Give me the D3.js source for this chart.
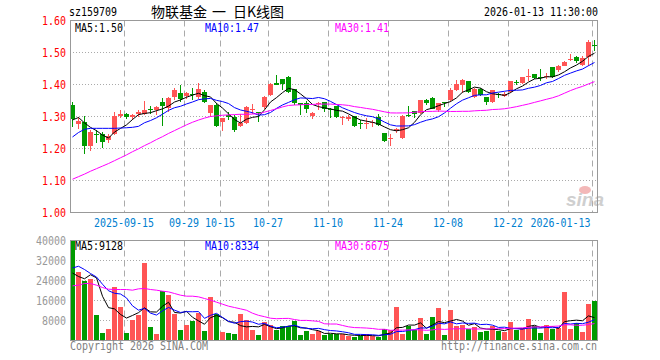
<!DOCTYPE html>
<html>
<head>
<meta charset="utf-8">
<script src="https://cdn.jsdelivr.net/npm/d3@7"></script>
<style>
  body { margin: 0; background: #fff; }
</style>
</head>
<body>
<div id="container"></div>
<script>
// données (sz159709, bougies journalières)
const dates = [
  "2025-09-02","2025-09-03","2025-09-04","2025-09-05","2025-09-08","2025-09-09","2025-09-10","2025-09-11","2025-09-12",
  "2025-09-15","2025-09-16","2025-09-17","2025-09-18","2025-09-19","2025-09-22","2025-09-23","2025-09-24","2025-09-25","2025-09-26",
  "2025-09-29","2025-09-30",
  "2025-10-09","2025-10-10","2025-10-13","2025-10-14","2025-10-15","2025-10-16","2025-10-17","2025-10-20","2025-10-21",
  "2025-10-22","2025-10-23","2025-10-24","2025-10-27","2025-10-28","2025-10-29","2025-10-30","2025-10-31",
  "2025-11-03","2025-11-04","2025-11-05","2025-11-06","2025-11-07","2025-11-10","2025-11-11","2025-11-12","2025-11-13","2025-11-14",
  "2025-11-17","2025-11-18","2025-11-19","2025-11-20","2025-11-21","2025-11-24","2025-11-25","2025-11-26","2025-11-27","2025-11-28",
  "2025-12-01","2025-12-02","2025-12-03","2025-12-04","2025-12-05","2025-12-08","2025-12-09","2025-12-10","2025-12-11","2025-12-12",
  "2025-12-15","2025-12-16","2025-12-17","2025-12-18","2025-12-19","2025-12-22","2025-12-23","2025-12-24","2025-12-25","2025-12-26",
  "2025-12-29","2025-12-30","2025-12-31",
  "2026-01-05","2026-01-06","2026-01-07","2026-01-08","2026-01-09","2026-01-12","2026-01-13"
];

const open = [
  1.335,1.278,1.283,1.207,1.246,1.245,1.228,1.245,1.303,1.308,
  1.297,1.307,1.307,1.323,1.320,1.346,1.328,1.361,1.375,1.364,
  1.369,1.361,1.377,1.310,1.335,1.283,1.306,1.299,1.270,1.280,
  1.321,1.313,1.330,1.367,1.405,1.417,1.422,1.387,1.341,1.343,
  1.303,1.338,1.345,1.325,1.332,1.294,1.293,1.301,1.280,1.277,
  1.280,1.299,1.249,1.231,1.256,1.234,1.305,1.316,1.312,1.351,
  1.358,1.320,1.345,1.351,1.382,1.400,1.410,1.361,1.385,1.361,
  1.346,1.369,1.364,1.376,1.409,1.404,1.425,1.433,1.423,1.423,
  1.454,1.444,1.459,1.477,1.485,1.461,1.485,1.523
];
const high = [
  1.345,1.299,1.301,1.259,1.257,1.252,1.245,1.315,1.320,1.311,
  1.307,1.320,1.349,1.332,1.333,1.359,1.361,1.390,1.398,1.377,
  1.390,1.406,1.382,1.335,1.341,1.296,1.315,1.304,1.309,1.332,
  1.340,1.315,1.363,1.405,1.429,1.417,1.426,1.387,1.341,1.349,
  1.315,1.346,1.345,1.328,1.332,1.301,1.304,1.301,1.289,1.294,
  1.290,1.307,1.249,1.245,1.265,1.304,1.332,1.318,1.351,1.356,
  1.361,1.343,1.346,1.390,1.414,1.416,1.410,1.390,1.390,1.361,
  1.382,1.374,1.378,1.410,1.415,1.425,1.449,1.433,1.449,1.435,
  1.454,1.461,1.472,1.494,1.489,1.488,1.538,1.538
];
const low = [
  1.267,1.262,1.184,1.193,1.218,1.203,1.216,1.242,1.294,1.291,
  1.289,1.300,1.304,1.309,1.306,1.270,1.315,1.353,1.346,1.356,
  1.353,1.356,1.341,1.300,1.268,1.255,1.290,1.252,1.268,1.278,
  1.309,1.283,1.325,1.364,1.397,1.384,1.375,1.335,1.306,1.311,
  1.293,1.320,1.315,1.294,1.294,1.275,1.285,1.268,1.262,1.262,
  1.268,1.270,1.221,1.208,1.250,1.231,1.300,1.294,1.307,1.335,
  1.323,1.313,1.330,1.346,1.380,1.372,1.374,1.359,1.364,1.337,
  1.343,1.357,1.360,1.374,1.399,1.402,1.412,1.418,1.412,1.418,
  1.420,1.440,1.457,1.473,1.468,1.459,1.459,1.504
];
const close = [
  1.291,1.285,1.207,1.252,1.244,1.221,1.239,1.301,1.309,1.299,
  1.305,1.315,1.320,1.321,1.330,1.333,1.358,1.384,1.354,1.372,
  1.366,1.387,1.346,1.335,1.270,1.294,1.297,1.257,1.280,1.330,
  1.323,1.310,1.361,1.403,1.398,1.401,1.377,1.341,1.336,1.323,
  1.311,1.343,1.322,1.320,1.299,1.300,1.300,1.270,1.277,1.280,
  1.283,1.273,1.224,1.234,1.262,1.301,1.303,1.309,1.351,1.343,
  1.325,1.341,1.342,1.382,1.401,1.414,1.377,1.385,1.367,1.344,
  1.382,1.366,1.371,1.410,1.404,1.425,1.428,1.420,1.420,1.428,
  1.423,1.458,1.470,1.480,1.473,1.482,1.534,1.520
];
// true = bougie rouge (hausse), false = verte
const up = open.map((o, i) => close[i] >= o);

const volume = [
  39800,27300,23700,24500,10100,2900,4500,21300,13300,2900,
  8100,10100,30900,5300,2500,19700,18100,10500,4100,6100,
  7700,10900,3700,17300,10500,3300,2900,2500,10500,8100,
  4100,2100,7300,6100,4100,5700,5700,7700,2100,3700,
  2500,3700,2100,2500,2500,2500,1700,1300,2000,2700,
  2000,1300,4500,4400,13300,2700,6000,4400,8900,2500,
  9300,12900,2100,12100,5700,6100,4500,5300,3300,3700,
  5700,3700,3300,7300,4100,4900,8500,5700,2900,6100,
  4500,4900,19300,4800,7200,3300,14600,15800
];

// moyennes mobiles avant que la fenêtre soit complète
const ma5PriceHead = [1.289, 1.297, 1.280, 1.266];
const ma10PriceHead = [1.236, 1.250, 1.260, 1.263, 1.263, 1.263, 1.263, 1.263, 1.264];
const ma30PriceHead = [
  1.104,1.112,1.120,1.129,1.137,1.145,1.153,1.162,1.171,1.180,
  1.190,1.199,1.209,1.218,1.228,1.237,1.247,1.256,1.265,1.274,
  1.282,1.289,1.295,1.300,1.302,1.304,1.305,1.306,1.307
];
const ma5VolHead = [27000, 25600, 24700, 26300];
const ma10VolHead = [29000, 29700, 28400, 26800, 25400, 22500, 19900, 18900, 18600];
const ma30VolHead = [
  21860,22130,22800,22800,22130,21200,20530,20400,20400,20400,
  20130,20660,20800,20400,20130,19730,19460,18800,18130,17730,
  17730,17460,16800,16130,15330,14530,13730,13200,12660
];

const tickDates = ["2025-09-15","2025-09-29","2025-10-15","2025-10-27","2025-11-10","2025-11-24","2025-12-08","2025-12-22","2026-01-13"];
const tickLabels = ["2025-09-15","09-29","10-15","10-27","11-10","11-24","12-08","12-22","2026-01-13"];
const priceTicks = [1.00, 1.10, 1.20, 1.30, 1.40, 1.50, 1.60];
const volTicks = [0, 8000, 16000, 24000, 32000, 40000];
const priceLegend = ["MA5:1.50", "MA10:1.47", "MA30:1.41"];
const volLegend = ["MA5:9128", "MA10:8334", "MA30:6675"];
const titleParts = ["物联基金", "一", "日K线图"];
const maColors = ["#000000", "#0000ff", "#ff00ff"];

// Dimensions
const width = 660;
const height = 360;
const left = 70;
const right = 598;

const RED = "#ff5555";
const GREEN = "#009a00";
const MONO = "'DejaVu Sans Mono', 'Liberation Mono', monospace";

const svg = d3.select("#container")
  .append("svg")
  .attr("width", width)
  .attr("height", height)
  .style("display", "block");

// texte monospace à 6px par caractère, comme la police bitmap de Sina
function label(g, x, y, s, color, anchor) {
  return g.append("text")
    .attr("x", x)
    .attr("y", y)
    .attr("text-anchor", anchor || "start")
    .attr("fill", color)
    .style("font-family", MONO)
    .style("font-size", "12px")
    .attr("textLength", s.length * 6)
    .attr("lengthAdjust", "spacingAndGlyphs")
    .text(s);
}

function movingAvg(vals, n, head) {
  return vals.map((v, i) => i < n - 1 ? head[i] : d3.mean(vals.slice(i - n + 1, i + 1)));
}

// Échelles
const x = d3.scaleBand().domain(dates).range([left, right]).padding(0);
const yPrice = d3.scaleLinear().domain([1.0, 1.6]).range([212.5, 20.5]);
const yVol = d3.scaleLinear().domain([0, 40000]).range([340.5, 240.5]);

// En-tête
label(svg, 69, 16, "sz159709", "#000");
const titleX = [151, 212, 233];
titleParts.forEach((s, k) => {
  svg.append("text")
    .attr("x", titleX[k]).attr("y", 17)
    .style("font-family", "'Noto Sans CJK SC', sans-serif")
    .style("font-size", "14px")
    .attr("fill", "#000")
    .text(s);
});
label(svg, 598, 16, "2026-01-13 11:30:00", "#000", "end");

// grilles
function drawGrid(yScale, ticks, top, bottom) {
  const g = svg.append("g");
  g.selectAll(".hgrid")
    .data(ticks.slice(1, -1))
    .enter().append("line")
    .attr("x1", left).attr("x2", right)
    .attr("y1", d => yScale(d)).attr("y2", d => yScale(d))
    .attr("stroke", "#aaa")
    .attr("stroke-dasharray", "1,2");
  g.selectAll(".vgrid")
    .data(tickDates)
    .enter().append("line")
    .attr("x1", d => x(d) + 0.5).attr("x2", d => x(d) + 0.5)
    .attr("y1", top).attr("y2", bottom)
    .attr("stroke", "#aaa")
    .attr("stroke-dasharray", "6,4");
  return g;
}
drawGrid(yPrice, priceTicks, 20.5, 212.5);
drawGrid(yVol, volTicks, 240.5, 340.5);

// logo sina
svg.append("ellipse")
  .attr("cx", 585).attr("cy", 190).attr("rx", 6).attr("ry", 4)
  .attr("fill", "#f3b8b8");
svg.append("text")
  .attr("x", 566).attr("y", 206)
  .style("font-family", "'Liberation Sans', Arial, sans-serif")
  .style("font-size", "19px")
  .style("font-weight", "bold")
  .style("font-style", "italic")
  .attr("fill", "#cfcfcf")
  .text("sina");

// Bougies
const candles = svg.append("g").style("shape-rendering", "crispEdges");
candles.selectAll(".wick")
  .data(dates)
  .enter().append("line")
  .attr("x1", d => x(d) + 2.5).attr("x2", d => x(d) + 2.5)
  .attr("y1", (d, i) => yPrice(high[i])).attr("y2", (d, i) => yPrice(low[i]))
  .attr("stroke", (d, i) => up[i] ? RED : GREEN);
candles.selectAll(".body")
  .data(dates)
  .enter().append("rect")
  .attr("x", d => x(d))
  .attr("width", 5)
  .attr("y", (d, i) => yPrice(Math.max(open[i], close[i])))
  .attr("height", (d, i) => Math.max(1, Math.abs(yPrice(open[i]) - yPrice(close[i]))))
  .attr("fill", (d, i) => up[i] ? RED : GREEN);

// Moyennes mobiles prix
const priceMAs = [
  movingAvg(close, 5, ma5PriceHead),
  movingAvg(close, 10, ma10PriceHead),
  movingAvg(close, 30, ma30PriceHead)
];
priceMAs.forEach((ma, k) => {
  svg.append("path")
    .datum(ma)
    .attr("fill", "none")
    .attr("stroke", maColors[k])
    .attr("stroke-width", 1)
    .attr("d", d3.line().x((v, i) => x(dates[i]) + 2.5).y(v => yPrice(v)));
});

// Volumes
svg.append("g").style("shape-rendering", "crispEdges")
  .selectAll(".vol")
  .data(dates)
  .enter().append("rect")
  .attr("x", d => x(d))
  .attr("width", 5)
  .attr("y", (d, i) => yVol(volume[i]))
  .attr("height", (d, i) => yVol(0) - yVol(volume[i]))
  .attr("fill", (d, i) => up[i] ? RED : GREEN);

const volMAs = [
  movingAvg(volume, 5, ma5VolHead),
  movingAvg(volume, 10, ma10VolHead),
  movingAvg(volume, 30, ma30VolHead)
];
volMAs.forEach((ma, k) => {
  svg.append("path")
    .datum(ma)
    .attr("fill", "none")
    .attr("stroke", maColors[k])
    .attr("stroke-width", 1)
    .attr("d", d3.line().x((v, i) => x(dates[i]) + 2.5).y(v => yVol(v)));
});

// cadres
[[20.5, 212.5], [240.5, 340.5]].forEach(([t, b]) => {
  svg.append("rect")
    .attr("x", left + 0.5).attr("y", t)
    .attr("width", right - left - 1).attr("height", b - t)
    .attr("fill", "none")
    .attr("stroke", "#999");
});

// Axes
const yAxisPrice = d3.axisLeft(yPrice).tickValues(priceTicks).tickFormat(d3.format(".2f")).tickSize(0).tickPadding(4);
const gyp = svg.append("g").attr("transform", `translate(${left},0)`).call(yAxisPrice);
gyp.select(".domain").remove();
gyp.selectAll("text")
  .attr("fill", "#ff0000")
  .style("font-family", MONO).style("font-size", "12px")
  .attr("textLength", 24).attr("lengthAdjust", "spacingAndGlyphs");

const yAxisVol = d3.axisLeft(yVol).tickValues(volTicks.slice(1)).tickFormat(d3.format("d")).tickSize(0).tickPadding(4);
const gyv = svg.append("g").attr("transform", `translate(${left},0)`).call(yAxisVol);
gyv.select(".domain").remove();
gyv.selectAll("text")
  .attr("fill", "#999")
  .style("font-family", MONO).style("font-size", "12px")
  .attr("textLength", d => String(d).length * 6).attr("lengthAdjust", "spacingAndGlyphs");

const xAxis = d3.axisBottom(x)
  .tickValues(tickDates)
  .tickFormat((d, i) => tickLabels[i])
  .tickSize(0);
const gx = svg.append("g").attr("transform", "translate(-3,0)").call(xAxis);
gx.select(".domain").remove();
gx.selectAll("text")
  .attr("y", 227).attr("dy", null)
  .attr("fill", "#0080d0")
  .style("font-family", MONO).style("font-size", "12px")
  .attr("textLength", (d, i) => tickLabels[i].length * 6)
  .attr("lengthAdjust", "spacingAndGlyphs");
gx.selectAll("text").filter(d => d === "2026-01-13")
  .attr("text-anchor", "end").attr("x", -1.5);

// Légendes
const legendX = [75, 205, 335];
priceLegend.forEach((s, k) => label(svg, legendX[k], 32, s, maColors[k]));
volLegend.forEach((s, k) => label(svg, legendX[k], 250, s, maColors[k]));

// pied de page
label(svg, 70, 350, "Copyright 2026 SINA.COM", "#808080");
label(svg, 597, 350, "http://finance.sina.com.cn", "#808080", "end");
</script>
</body>
</html>
